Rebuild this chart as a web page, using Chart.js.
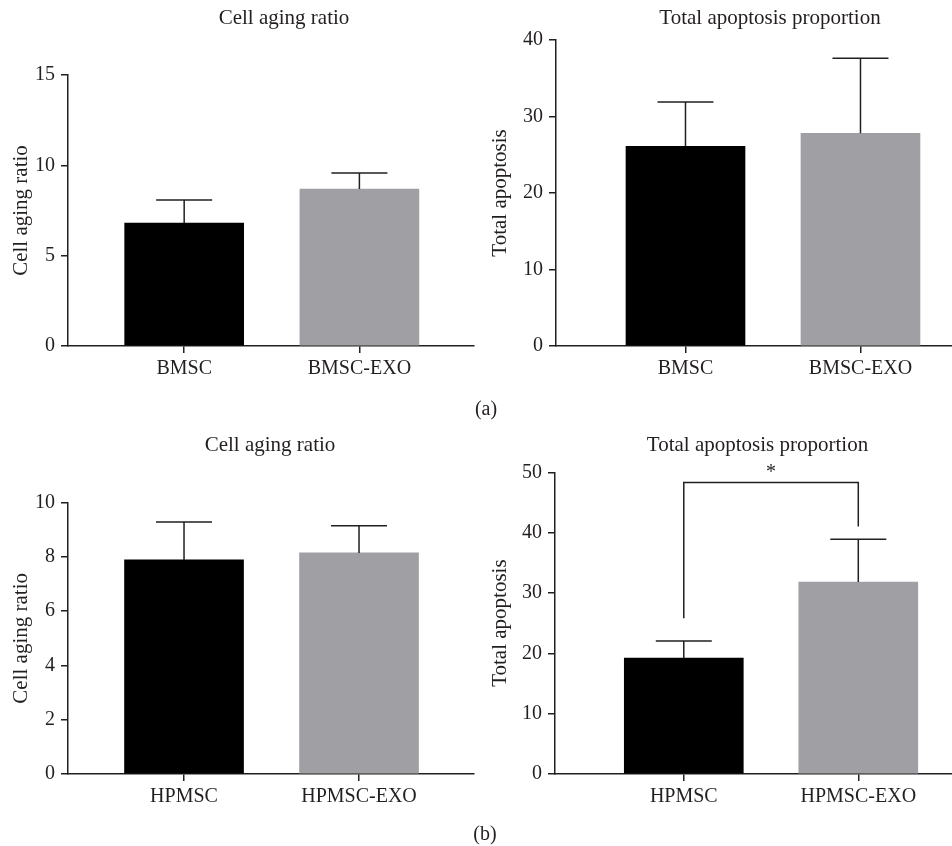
<!DOCTYPE html>
<html>
<head>
<meta charset="utf-8">
<script src="https://cdn.jsdelivr.net/npm/chart.js@4.4.1/dist/chart.umd.min.js"></script>
<style>
  body { margin: 0; background: #fff; }
  #page { position: relative; width: 952px; height: 846px; background: #fff; }
  .panel { position: absolute; }
  .tag { position: absolute; font: 20px "Liberation Serif", "DejaVu Serif", serif; color: #231f20; transform: translate(-50%, -50%); }
</style>
</head>
<body>
<div id="page">
  <div class="panel" style="left:0;top:0;width:476px;height:400px"><canvas id="c1"></canvas></div>
  <div class="panel" style="left:476px;top:0;width:476px;height:400px"><canvas id="c2"></canvas></div>
  <div class="panel" style="left:0;top:420px;width:476px;height:426px"><canvas id="c3"></canvas></div>
  <div class="panel" style="left:476px;top:420px;width:476px;height:426px"><canvas id="c4"></canvas></div>
  <div class="tag" style="left:486px;top:408px">(a)</div>
  <div class="tag" style="left:485px;top:833px">(b)</div>
</div>
<script>
// data (mean and upper error bar)
const bmscGroups = ['BMSC', 'BMSC-EXO'];
const hpmscGroups = ['HPMSC', 'HPMSC-EXO'];

const bmscAgingMean = [6.81, 8.69];
const bmscAgingSd = [1.27, 0.88];
const bmscApopMean = [26.1, 27.8];
const bmscApopSd = [5.8, 9.8];

const hpmscAgingMean = [7.89, 8.15];
const hpmscAgingSd = [1.40, 1.00];
const hpmscApopMean = [19.2, 31.8];
const hpmscApopSd = [2.85, 7.1];

const agingTicksA = [0, 5, 10, 15];
const apopTicksA = [0, 10, 20, 30, 40];
const agingTicksB = [0, 2, 4, 6, 8, 10];
const apopTicksB = [0, 10, 20, 30, 40, 50];

// significance bracket for HPMSC apoptosis
const sigLegEnds = [25.8, 41.0];
const sigTop = 48.3;
const sigText = '*';

const ink = '#231f20';
const barColors = ['#000000', '#a09fa4'];
const serif = '"Liberation Serif", "DejaVu Serif", serif';

function errorBars(sd) {
  return {
    id: 'errorBars',
    afterDatasetsDraw(chart) {
      const { ctx, scales: { x, y } } = chart;
      const pts = chart.data.datasets[0].data;
      ctx.save();
      ctx.strokeStyle = ink;
      ctx.lineWidth = 1.5;
      sd.forEach((s, i) => {
        const px = x.getPixelForValue(pts[i].x);
        const y0 = y.getPixelForValue(pts[i].y);
        const y1 = y.getPixelForValue(pts[i].y + s);
        ctx.beginPath();
        ctx.moveTo(px, y0);
        ctx.lineTo(px, y1);
        ctx.moveTo(px - 28, y1);
        ctx.lineTo(px + 28, y1);
        ctx.stroke();
      });
      ctx.restore();
    }
  };
}

// panel title, centred a little off the plot centre like the original
function panelTitle(text, dx, y) {
  return {
    id: 'panelTitle',
    afterDraw(chart) {
      const { ctx, chartArea } = chart;
      ctx.save();
      ctx.fillStyle = ink;
      ctx.font = '21px ' + serif;
      ctx.textAlign = 'center';
      ctx.textBaseline = 'middle';
      ctx.fillText(text, (chartArea.left + chartArea.right) / 2 + dx, y);
      ctx.restore();
    }
  };
}

const bracket = {
  id: 'bracket',
  afterDatasetsDraw(chart) {
    const { ctx, scales: { x, y } } = chart;
    const xl = x.getPixelForValue(0), xr = x.getPixelForValue(1);
    const yt = y.getPixelForValue(sigTop);
    ctx.save();
    ctx.strokeStyle = ink;
    ctx.lineWidth = 1.5;
    ctx.beginPath();
    ctx.moveTo(xl, y.getPixelForValue(sigLegEnds[0]));
    ctx.lineTo(xl, yt);
    ctx.lineTo(xr, yt);
    ctx.lineTo(xr, y.getPixelForValue(sigLegEnds[1]));
    ctx.stroke();
    ctx.fillStyle = ink;
    ctx.font = '20px ' + serif;
    ctx.textAlign = 'center';
    ctx.textBaseline = 'middle';
    ctx.fillText(sigText, (xl + xr) / 2, yt - 10);
    ctx.restore();
  }
};

function makePanel(id, groups, means, sd, yTicks, yLabel, title, lay, extra) {
  const font = { family: serif, size: 20, weight: 'normal' };
  return new Chart(document.getElementById(id), {
    type: 'bar',
    data: {
      datasets: [{
        data: means.map((m, i) => ({ x: i, y: m })),
        backgroundColor: barColors,
        borderWidth: 0,
        barThickness: 119
      }]
    },
    options: {
      responsive: true,
      maintainAspectRatio: false,
      animation: false,
      layout: { padding: { right: lay.padRight, top: lay.padTop } },
      plugins: {
        legend: { display: false },
        tooltip: { enabled: false },
        title: { display: false }
      },
      scales: {
        x: {
          type: 'linear',
          offset: false,
          min: lay.xMin,
          max: lay.xMax,
          afterBuildTicks: s => { s.ticks = groups.map((g, i) => ({ value: i })); },
          afterFit: s => { s.height = lay.xHeight; },
          ticks: {
            callback: v => groups[v],
            color: ink,
            font: font,
            padding: 4,
            maxRotation: 0,
            autoSkip: false
          },
          grid: { offset: false, drawOnChartArea: false, tickLength: 7, color: ink, lineWidth: 1.5 },
          border: { color: ink, width: 1.5 }
        },
        y: {
          min: 0,
          max: yTicks[yTicks.length - 1],
          afterBuildTicks: s => { s.ticks = yTicks.map(v => ({ value: v })); },
          afterFit: s => { s.width = lay.yWidth; },
          ticks: { color: ink, font: font, padding: 6 },
          grid: { drawOnChartArea: false, tickLength: 7, color: ink, lineWidth: 1.5 },
          border: { color: ink, width: 1.5 },
          title: {
            display: true,
            text: yLabel,
            color: ink,
            font: { family: serif, size: 21, weight: 'normal' },
            padding: { top: lay.yTitlePad, bottom: 0 }
          }
        }
      }
    },
    plugins: [errorBars(sd), panelTitle(title, lay.titleDx, lay.titleY)].concat(extra || [])
  });
}

makePanel('c1', bmscGroups, bmscAgingMean, bmscAgingSd, agingTicksA,
  'Cell aging ratio', 'Cell aging ratio',
  { padRight: 2, padTop: 75, titleDx: 13, titleY: 18, xHeight: 54, yWidth: 68, yTitlePad: 9, xMin: -0.663, xMax: 1.654 });

makePanel('c2', bmscGroups, bmscApopMean, bmscApopSd, apopTicksA,
  'Total apoptosis', 'Total apoptosis proportion',
  { padRight: 0, padTop: 40, titleDx: 16, titleY: 18, xHeight: 54, yWidth: 80, yTitlePad: 12, xMin: -0.74, xMax: 1.523 });

makePanel('c3', hpmscGroups, hpmscAgingMean, hpmscAgingSd, agingTicksB,
  'Cell aging ratio', 'Cell aging ratio',
  { padRight: 2, padTop: 82.7, titleDx: -1, titleY: 25, xHeight: 72, yWidth: 68, yTitlePad: 9, xMin: -0.663, xMax: 1.657 });

makePanel('c4', hpmscGroups, hpmscApopMean, hpmscApopSd, apopTicksB,
  'Total apoptosis', 'Total apoptosis proportion',
  { padRight: 0, padTop: 52.3, titleDx: 4, titleY: 25, xHeight: 72, yWidth: 79, yTitlePad: 12, xMin: -0.738, xMax: 1.537 },
  [bracket]);
</script>
</body>
</html>
